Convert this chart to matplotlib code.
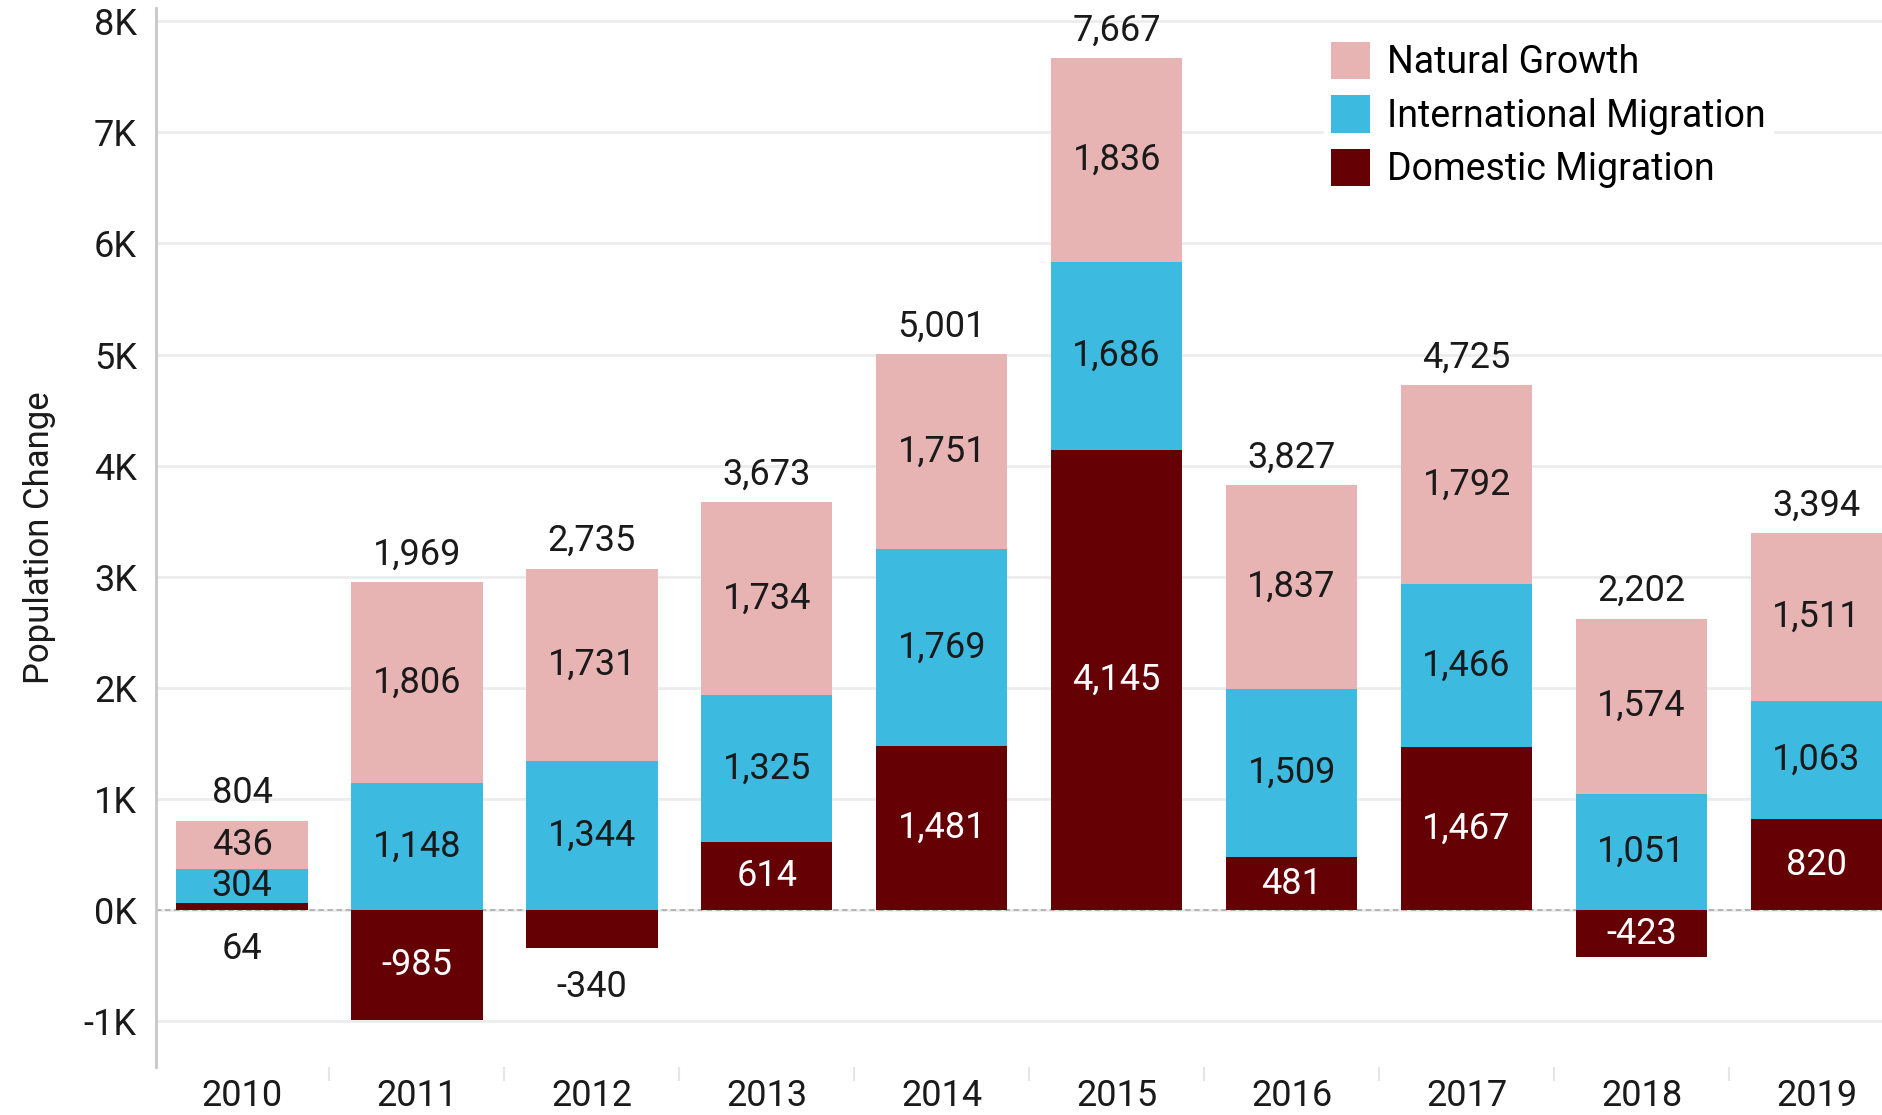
import matplotlib.pyplot as plt
import numpy as np

years = ["2010", "2011", "2012", "2013", "2014", "2015", "2016", "2017", "2018", "2019"]
domestic = [64, -985, -340, 614, 1481, 4145, 481, 1467, -423, 820]
international = [304, 1148, 1344, 1325, 1769, 1686, 1509, 1466, 1051, 1063]
natural = [436, 1806, 1731, 1734, 1751, 1836, 1837, 1792, 1574, 1511]

c_nat = "#E8B3B3"
c_int = "#3DBAE0"
c_dom = "#650005"
txt = "#1a1a1a"

plt.rcParams['font.family'] = ['Roboto', 'DejaVu Sans']

fig = plt.figure(figsize=(18.83, 11.15), dpi=100)
ax = fig.add_axes([0.083, 0.043, 0.917, 0.950])

x = np.arange(len(years))
dom = np.array(domestic)
intl = np.array(international)
nat = np.array(natural)
w = 0.75

# positive stack starts at the top of a positive domestic bar, or at zero
base_int = np.where(dom > 0, dom, 0)
base_nat = base_int + intl
top = base_nat + nat
totals = dom + intl + nat

ax.bar(x, dom, w, color=c_dom, zorder=3, label="Domestic Migration")
ax.bar(x, intl, w, bottom=base_int, color=c_int, zorder=3, label="International Migration")
ax.bar(x, nat, w, bottom=base_nat, color=c_nat, zorder=3, label="Natural Growth")

fs = 26
for i in range(len(years)):
    ax.text(x[i], base_nat[i] + nat[i] / 2, f"{nat[i]:,}", ha="center", va="center",
            fontsize=fs, color=txt, zorder=4)
    ax.text(x[i], base_int[i] + intl[i] / 2, f"{intl[i]:,}", ha="center", va="center",
            fontsize=fs, color=txt, zorder=4)
    if abs(dom[i]) >= 400:
        ax.text(x[i], dom[i] / 2, f"{dom[i]:,}", ha="center", va="center",
                fontsize=fs, color="white", zorder=4)
    else:
        ax.annotate(f"{dom[i]:,}", (x[i], min(dom[i], 0)), xytext=(0, -15),
                    textcoords="offset points", ha="center", va="top",
                    fontsize=fs, color=txt, zorder=4)
    ax.annotate(f"{totals[i]:,}", (x[i], top[i]), xytext=(0, 7),
                textcoords="offset points", ha="center", va="bottom",
                fontsize=fs, color=txt, zorder=4)

ax.axhline(0, color="#b0b0b0", lw=1.3, ls=(0, (3, 2)), zorder=2)

ax.set_xlim(-0.49, 9.38)
ax.set_ylim(-1410, 8120)
ax.set_yticks(np.arange(-1000, 8001, 1000))
ax.set_yticklabels([f"{v // 1000}K" for v in range(-1000, 8001, 1000)])
ax.yaxis.grid(True, color="#ececec", lw=2, zorder=0)
ax.set_axisbelow(True)

ax.set_xticks(x)
ax.set_xticklabels(years)
ax.set_xticks(np.arange(0.5, 9.5, 1), minor=True)
ax.tick_params(axis="x", which="major", length=0, pad=8, labelsize=fs, labelcolor=txt)
ax.tick_params(axis="x", which="minor", length=10, color="#e6e6e6", width=1.5)
ax.tick_params(axis="y", length=0, pad=14, labelsize=fs, labelcolor=txt)

for s in ["top", "right", "bottom"]:
    ax.spines[s].set_visible(False)
ax.spines["left"].set_color("#c8c8c8")
ax.spines["left"].set_linewidth(2)

ax.set_ylabel("Population Change", fontsize=25, color=txt, labelpad=20)

h, l = ax.get_legend_handles_labels()
leg = ax.legend(h[::-1], l[::-1], loc="upper left", bbox_to_anchor=(0.676, 0.975),
                fontsize=27, frameon=True, facecolor="white", edgecolor="white",
                framealpha=1, handlelength=1.05, handleheight=1.15, handletextpad=0.45,
                labelspacing=0.38, borderaxespad=0, borderpad=0.2)
leg.set_zorder(5)

fig.savefig("out.png", dpi=100)
